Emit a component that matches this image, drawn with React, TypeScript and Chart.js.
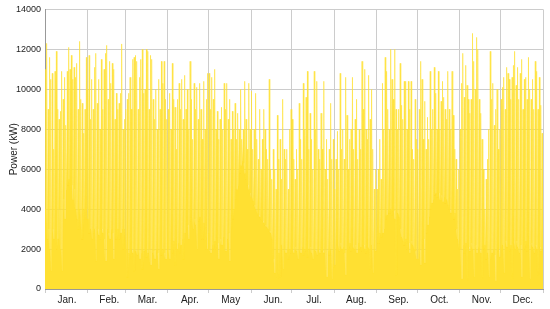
import React, { useEffect, useRef } from "react";
import { Chart, registerables } from "chart.js";
Chart.register(...registerables);

const monthLabels = ["Jan.", "Feb.", "Mar.", "Apr.", "May", "Jun.", "Jul.", "Aug.", "Sep.", "Oct.", "Nov.", "Dec."];
const monthDays = [31, 28, 31, 30, 31, 30, 31, 31, 30, 31, 30, 31];
const yMax = 14000;
const yStep = 2000;

// daily peak power (kW)
const janPeak = [11000, 12300, 9000, 11600, 10500, 10800, 7000, 10900, 11900, 9000, 8500, 8900, 10900, 9500, 10600, 8200, 10900, 12100, 11000, 11700, 10500, 11100, 10600, 11300, 9000, 12400, 9500, 9300, 7800, 9000, 11600];
const febPeak = [10000, 11700, 8500, 10500, 9000, 11100, 11800, 9300, 10500, 8000, 11500, 9000, 11000, 11800, 12200, 9500, 11400, 10300, 11300, 11000, 8500, 9800, 9000, 9300, 9800, 12270, 8000, 8500];
const marPeak = [9000, 9500, 9800, 10600, 9000, 11500, 11600, 11700, 11400, 9000, 10600, 11500, 12000, 9800, 10000, 12000, 11900, 9000, 11700, 11500, 9500, 8500, 10000, 8000, 10500, 9000, 11400, 10300, 11400, 9500, 8500];
const aprPeak = [9000, 9800, 8000, 11300, 9500, 9100, 7000, 9500, 10300, 9000, 10500, 8500, 10700, 9000, 10000, 8000, 11400, 9500, 7500, 10300, 9000, 10100, 8500, 10300, 9000, 7500, 10400, 8000, 9500, 10800];
const mayPeak = [10800, 9000, 10600, 9500, 11000, 8000, 8900, 7500, 8500, 9100, 8000, 10300, 9000, 10300, 8500, 9500, 7500, 8900, 8000, 9300, 7500, 8800, 8000, 10000, 7500, 8000, 10400, 8500, 7000, 10300, 8000];
const junPeak = [9900, 7000, 8000, 9800, 7500, 6500, 9000, 6000, 7500, 9000, 8000, 7000, 6500, 10500, 6000, 5500, 7000, 6000, 5000, 8700, 6500, 7500, 5500, 9500, 7000, 6500, 7000, 5000, 8000, 9000];
const julPeak = [8500, 6500, 5500, 7000, 6000, 9300, 7500, 6500, 10300, 8000, 9600, 10900, 7000, 8800, 7500, 6000, 10900, 8000, 10400, 7000, 6500, 8800, 7000, 10400, 6000, 7500, 5500, 7000, 9300, 6500, 7500];
const augPeak = [5000, 6500, 7900, 6000, 10800, 7000, 8000, 6500, 10600, 8700, 6000, 7500, 8000, 10600, 7000, 8500, 9500, 6500, 8000, 7000, 11400, 9000, 11000, 8000, 7500, 10700, 8500, 10000, 7000, 5000, 6000];
const sepPeak = [5000, 6000, 7500, 5500, 10300, 8000, 11600, 10900, 9000, 8000, 12000, 10500, 9500, 12000, 9000, 8000, 9000, 11300, 9200, 8500, 10400, 10400, 8000, 10400, 9000, 10400, 7000, 6500, 9500, 7500];
const octPeak = [7000, 9000, 11400, 10500, 7500, 9400, 7000, 8600, 7500, 10900, 8000, 9000, 11100, 9800, 8000, 10900, 8000, 9400, 10400, 9600, 9000, 8500, 10900, 9000, 8000, 10900, 8700, 7000, 6500, 5000, 6000];
const novPeak = [8000, 10300, 11800, 9600, 11200, 10200, 9500, 8800, 9500, 12800, 11400, 10000, 12600, 12000, 9500, 8800, 7500, 6000, 4000, 5500, 6500, 8000, 11900, 9500, 10300, 8200, 9000, 10000, 7000, 8000];
const decPeak = [9500, 10100, 10600, 9000, 11100, 10800, 10500, 9500, 10600, 11200, 11900, 10200, 11100, 9500, 10800, 11500, 9000, 10500, 10600, 9500, 11600, 10000, 9500, 10500, 9000, 11400, 10900, 9000, 10600, 9200, 7800];

// daily low power (kW)
const janLow = [4000, 2500, 3000, 2000, 900, 3000, 2500, 3500, 2000, 2500, 4000, 2000, 900, 4500, 3500, 5000, 5200, 5500, 5000, 5200, 4500, 5000, 4000, 3500, 3000, 4000, 3000, 2500, 4000, 3500, 4000];
const febLow = [3500, 2800, 3000, 2500, 2800, 3000, 1400, 3000, 2700, 2500, 3000, 2800, 2500, 1400, 3000, 2800, 2500, 3000, 2800, 1500, 2700, 2500, 3000, 2500, 2800, 3000, 2000, 3000];
const marLow = [2000, 600, 1800, 1500, 2000, 1800, 900, 1900, 1700, 2000, 1500, 1800, 1000, 1900, 2000, 1600, 1800, 2000, 1200, 1800, 1900, 1500, 2000, 1800, 1000, 1900, 1700, 2000, 1800, 1500, 2000];
const aprLow = [2000, 1500, 2200, 1800, 2400, 1200, 2000, 2300, 1800, 2200, 2500, 1500, 2800, 3000, 3200, 2500, 3400, 3600, 3000, 3500, 3200, 2000, 3400, 3600, 3000, 2500, 3300, 3000, 2000, 2800];
const mayLow = [2000, 1800, 2200, 2000, 2400, 2000, 2300, 1500, 2500, 2200, 2600, 2000, 1900, 2500, 2800, 1400, 3000, 3500, 4000, 4500, 5000, 5200, 5800, 6200, 6400, 6300, 5800, 5500, 5200, 5000, 4800];
const junLow = [4600, 4400, 4200, 4000, 3800, 3700, 3600, 3500, 3400, 3300, 3200, 3100, 3000, 2900, 2800, 2500, 1500, 800, 2000, 500, 1800, 600, 2200, 1000, 2000, 1800, 2000, 1500, 2000, 1800];
const julLow = [2000, 1800, 2100, 1900, 1500, 2000, 1800, 2100, 1700, 2000, 1900, 1600, 2000, 2100, 1800, 1500, 2000, 1900, 1700, 2000, 1800, 2100, 1900, 1800, 2000, 600, 1900, 1700, 2000, 500, 1100];
const augLow = [1200, 2000, 2200, 1900, 2300, 2000, 2100, 1800, 700, 2200, 2000, 2300, 1900, 2100, 2000, 2200, 1800, 2300, 2000, 2100, 1900, 2200, 2000, 1800, 2100, 2000, 1000, 2200, 800, 2000, 1900];
const sepLow = [2500, 2300, 2800, 2600, 2800, 3000, 3500, 3700, 4000, 3800, 4000, 3700, 3900, 3500, 700, 3800, 3600, 3000, 2600, 2400, 2200, 2500, 2000, 2300, 1800, 2400, 2200, 2000, 1900, 1500];
const octLow = [1500, 2000, 1200, 2200, 2500, 1300, 2800, 3200, 3600, 4000, 4300, 4500, 4700, 4800, 4600, 4800, 4500, 4700, 4400, 4600, 4300, 4500, 4200, 4000, 3800, 4200, 3500, 3800, 3000, 2500, 2000];
const novLow = [2000, 500, 2200, 1800, 2300, 400, 2100, 1900, 2300, 2000, 600, 2200, 1800, 2100, 2000, 1800, 500, 2000, 2200, 1500, 1800, 600, 1500, 1800, 2000, 1700, 400, 1900, 2000, 1600];
const decLow = [2000, 2200, 800, 2400, 2100, 2300, 1900, 2200, 500, 2300, 2000, 2400, 2100, 1800, 2200, 600, 2300, 2000, 2400, 1900, 2200, 500, 2300, 2100, 1800, 2200, 2000, 700, 2100, 1900, 2000];

const peaks = [janPeak, febPeak, marPeak, aprPeak, mayPeak, junPeak, julPeak, augPeak, sepPeak, octPeak, novPeak, decPeak].flat();
const lows = [janLow, febLow, marLow, aprLow, mayLow, junLow, julLow, augLow, sepLow, octLow, novLow, decLow].flat();

const monthStarts: number[] = [];
{
  let acc = 0;
  for (const d of monthDays) {
    monthStarts.push(acc);
    acc += d;
  }
  monthStarts.push(acc);
}
const totalDays = monthStarts[monthStarts.length - 1];

function buildPoints() {
  const pts: { x: number; y: number }[] = [];
  for (let d = 0; d < peaks.length; d++) {
    pts.push({ x: d, y: lows[d] });
    pts.push({ x: d + 0.35, y: peaks[d] });
    pts.push({ x: d + 0.75, y: lows[d] });
  }
  pts.push({ x: totalDays, y: lows[lows.length - 1] });
  return pts;
}

const FONT = "'Liberation Sans', Arial, sans-serif";
const YELLOW = "rgb(255, 224, 50)";

export default function App() {
  const ref = useRef<HTMLCanvasElement | null>(null);
  useEffect(() => {
    if (!ref.current) return;
    const chart = new Chart(ref.current, {
      type: "line",
      data: {
        datasets: [
          {
            data: buildPoints(),
            borderColor: YELLOW,
            backgroundColor: YELLOW,
            borderWidth: 0.6,
            pointRadius: 0,
            fill: "origin",
            tension: 0,
          },
        ],
      },
      options: {
        animation: false,
        responsive: true,
        maintainAspectRatio: false,
        parsing: false,
        normalized: true,
        layout: { padding: { top: 7, right: 7, left: 0, bottom: 0 } },
        plugins: { legend: { display: false }, tooltip: { enabled: false } },
        scales: {
          x: {
            type: "linear",
            min: 0,
            max: totalDays,
            afterBuildTicks: (s: any) => {
              s.ticks = monthStarts.map((v) => ({ value: v }));
            },
            afterFit: (s: any) => {
              s.height = 20;
            },
            ticks: {
              autoSkip: false,
              maxRotation: 0,
              minRotation: 0,
              labelOffset: 22,
              padding: 1,
              color: "#222",
              font: { size: 10, family: FONT },
              callback: (_v: any, i: number) => monthLabels[i] ?? "",
            },
            grid: { color: "#cccccc", tickLength: 4, drawTicks: true },
            border: { color: "#999999" },
          },
          y: {
            min: 0,
            max: yMax,
            afterFit: (s: any) => {
              s.width = 45;
            },
            ticks: {
              stepSize: yStep,
              padding: 4,
              color: "#222",
              font: { size: 9, family: FONT },
              callback: (v: any) => String(v),
            },
            grid: { color: "#cccccc", drawTicks: false },
            border: { color: "#999999" },
            title: {
              display: true,
              text: "Power (kW)",
              color: "#222",
              font: { size: 10, family: FONT },
              padding: { top: 8, bottom: 0 },
            },
          },
        },
      },
    });
    return () => chart.destroy();
  }, []);
  return (
    <div style={{ position: "fixed", left: 0, top: 0, width: 550, height: 309 }}>
      <canvas ref={ref} />
    </div>
  );
}
